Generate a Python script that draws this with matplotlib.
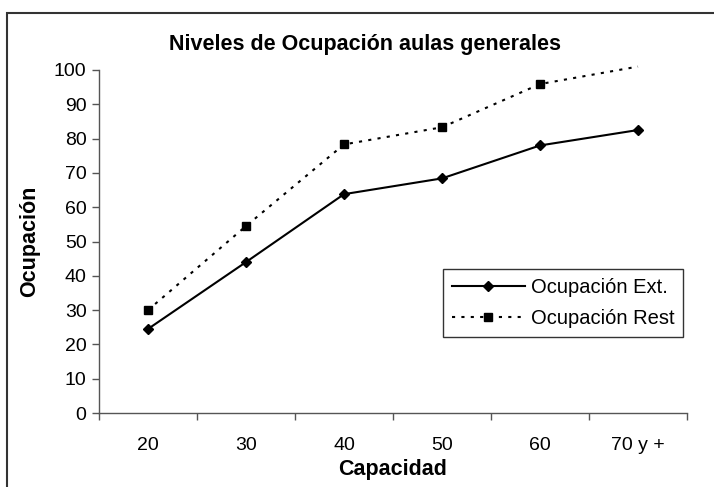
import matplotlib
matplotlib.use("Agg")
import matplotlib.pyplot as plt
from matplotlib.patches import Rectangle

# ─── Data ──────────────────────────────────────────────────────────
capacidad   = ["20", "30", "40", "50", "60", "70 y +"]
ocup_ext    = [24.5, 44.0, 63.8, 68.4, 78.0, 82.5]
ocup_rest   = [30.0, 54.5, 78.3, 83.3, 95.9, 101.0]
y_ticks     = list(range(0, 101, 10))

plt.rcParams['font.family'] = ['Liberation Sans', 'DejaVu Sans']

fig = plt.figure(figsize=(7.14, 4.87), dpi=100)
ax = fig.add_axes([99/714, (487-413)/487, 588/714, 343/487])

# outer chart-area border (cut off at right/bottom like the original)
fig.patches.append(Rectangle((7/714, -0.1), 1.2, 1 - 13/487 + 0.1,
                             transform=fig.transFigure, fill=False,
                             edgecolor='#333333', linewidth=1.5))

x = list(range(len(capacidad)))
ax.plot(x, ocup_ext, color='black', linewidth=1.5, marker='D',
        markersize=5, label='Ocupación Ext.', clip_on=False)
ax.plot(x, ocup_rest, color='black', linewidth=1.5, linestyle=(0, (1.5, 3)),
        marker='s', markersize=5.5, markevery=[0, 1, 2, 3, 4],
        label='Ocupación Rest', clip_on=False)

ax.set_xlim(-0.5, len(capacidad) - 0.5)
ax.set_ylim(0, 100)
ax.set_yticks(y_ticks)
ax.set_xticks([i - 0.5 for i in range(len(capacidad) + 1)])
ax.set_xticklabels([])
ax.set_xticks(x, minor=True)
ax.set_xticklabels(capacidad, minor=True)
ax.tick_params(axis='x', which='minor', length=0, pad=17, labelsize=14)
ax.tick_params(axis='x', which='major', length=5, width=1, color='#555555')
ax.tick_params(axis='y', length=5, width=1, color='#555555', labelsize=14, pad=4)

for s in ['top', 'right']:
    ax.spines[s].set_visible(False)
for s in ['left', 'bottom']:
    ax.spines[s].set_color('#555555')
    ax.spines[s].set_linewidth(1)

ax.set_title('Niveles de Ocupación aulas generales', fontsize=15.5,
             fontweight='bold', x=(365-99)/588, y=1.035)
ax.set_xlabel('Capacidad', fontsize=15.5, fontweight='bold', labelpad=4)
ax.set_ylabel('Ocupación', fontsize=15.5, fontweight='bold', labelpad=10)

leg = ax.legend(loc='upper left', bbox_to_anchor=(0.585, 0.42),
                borderaxespad=0, fancybox=False, frameon=True,
                fontsize=14.5, handlelength=3.6, handletextpad=0.3,
                labelspacing=0.6, borderpad=0.45)
leg.get_frame().set_edgecolor('black')
leg.get_frame().set_linewidth(1)

fig.savefig('out.png', dpi=100)
